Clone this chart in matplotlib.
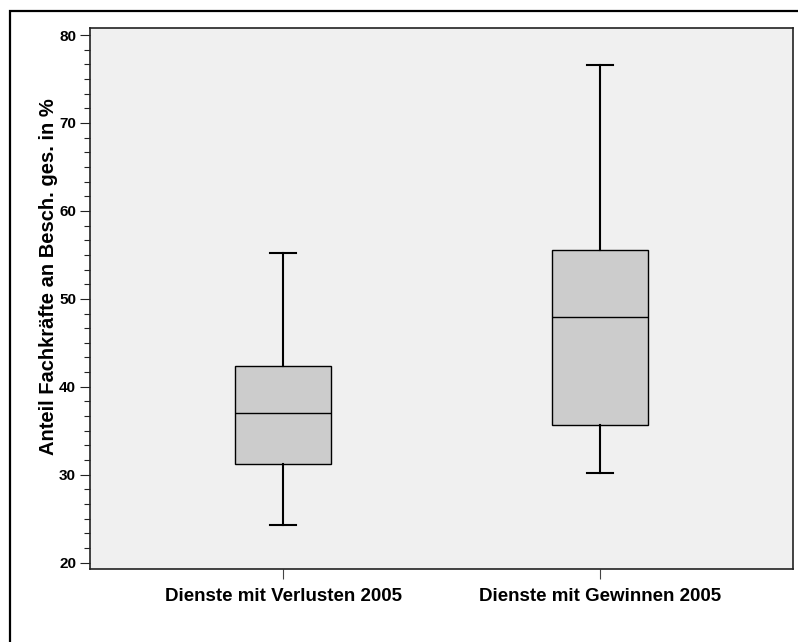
import matplotlib
matplotlib.use("Agg")
import matplotlib.pyplot as plt
from matplotlib.patches import Rectangle
from matplotlib.ticker import MultipleLocator

plt.rcParams["font.family"] = ["Liberation Sans", "DejaVu Sans"]
plt.rcParams["font.weight"] = "bold"

# ---------------------------------------------------------------------------
# Data: box statistics per group (share of skilled staff in %)
# ---------------------------------------------------------------------------
groups = ["Dienste mit Verlusten 2005", "Dienste mit Gewinnen 2005"]
whisker_low = [24.3, 30.2]
q1 = [31.2, 35.6]
median = [37.0, 47.9]
q3 = [42.4, 55.6]
whisker_high = [55.2, 76.6]

y_label = "Anteil Fachkräfte an Besch. ges. in %"

W, H = 798, 642
fig = plt.figure(figsize=(W / 100, H / 100), dpi=100)
fig.patch.set_facecolor("white")

# outer frame
fig.patches.append(Rectangle((10 / W, -0.05), 1.2, 1 - 11 / H + 0.05,
                             transform=fig.transFigure, fill=False,
                             edgecolor="black", linewidth=1.6))

ax = fig.add_axes([90 / W, 1 - 569 / H, (793 - 90) / W, (569 - 28) / H])
ax.set_facecolor("#f0f0f0")

stats = []
for i, g in enumerate(groups):
    stats.append({
        "label": g,
        "whislo": whisker_low[i],
        "q1": q1[i],
        "med": median[i],
        "q3": q3[i],
        "whishi": whisker_high[i],
        "fliers": [],
    })

ax.bxp(stats, positions=[1, 2], widths=0.30, capwidths=0.082,
       showfliers=False, patch_artist=True,
       boxprops=dict(facecolor="#cccccc", edgecolor="black", linewidth=1.0),
       medianprops=dict(color="black", linewidth=1.0),
       whiskerprops=dict(color="black", linewidth=1.5),
       capprops=dict(color="black", linewidth=1.5))

ax.set_xlim(0.391, 2.609)
ax.set_ylim(19.28, 80.8)
ax.yaxis.set_major_locator(MultipleLocator(10))
ax.yaxis.set_minor_locator(MultipleLocator(10 / 6))

for side in ["left", "right", "top", "bottom"]:
    ax.spines[side].set_color("#222222")
    ax.spines[side].set_linewidth(1.2)

ax.tick_params(axis="y", which="major", length=7, width=0.8, pad=3,
               labelsize=11, colors="#222222", labelcolor="black")
ax.tick_params(axis="y", which="minor", length=4, width=0.8, colors="#222222")
ax.tick_params(axis="x", which="major", length=7, width=0.8, pad=7,
               labelsize=13.5, colors="#444444", labelcolor="black")
ax.tick_params(axis="x", which="minor", length=0)
for t in ax.get_yticklabels() + ax.get_xticklabels():
    t.set_fontweight("bold")

ax.set_ylabel(y_label, fontsize=14.5, fontweight="bold")
ax.yaxis.set_label_coords(-0.045, 0.54)

fig.savefig("out.png", dpi=100)
